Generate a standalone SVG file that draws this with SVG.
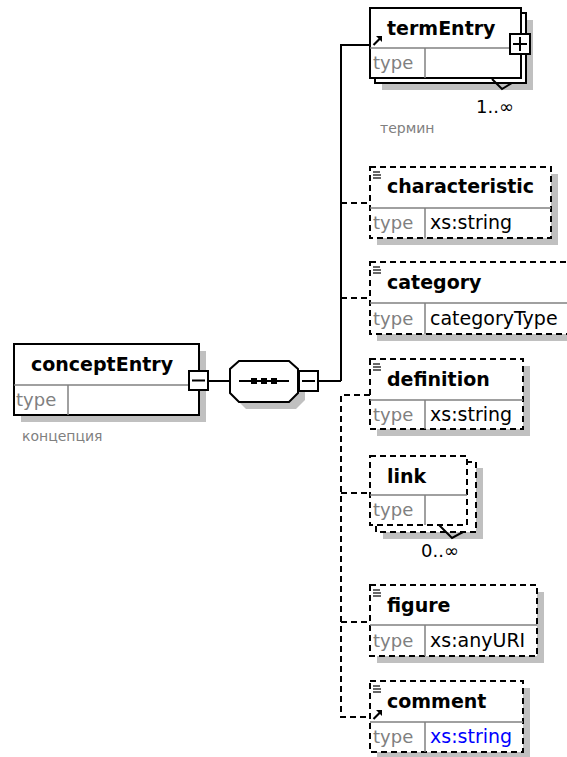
<svg xmlns="http://www.w3.org/2000/svg" width="567" height="757" viewBox="0 0 567 757">
  <style>
    .bg { fill: #ffffff; }
    .shadow { fill: #c0c0c0; stroke: none; }
    .box { fill: #ffffff; stroke: #000000; stroke-width: 2; }
    .opt { fill: #ffffff; stroke: #000000; stroke-width: 2; stroke-dasharray: 6 4; }
    .sep { stroke: #808080; stroke-width: 1.5; fill: none; }
    .wire { stroke: #000000; stroke-width: 2; fill: none; }
    .wire-opt { stroke: #000000; stroke-width: 2; fill: none; stroke-dasharray: 6 4; }
    .btn { fill: #ffffff; stroke: #000000; stroke-width: 2; }
    .glyph { stroke: #000000; stroke-width: 2; fill: none; }
    .doc { stroke: #000000; stroke-width: 1.2; fill: none; }
    .name { font-family: "DejaVu Sans", Verdana, sans-serif; font-weight: bold; font-size: 19px; fill: #000000; }
    .lbl { font-family: "DejaVu Sans", Verdana, sans-serif; font-size: 18px; fill: #808080; }
    .val { font-family: "DejaVu Sans", Verdana, sans-serif; font-size: 19px; fill: #000000; }
    .link-val { fill: #0000ff; }
    .note { font-family: "DejaVu Sans", Verdana, sans-serif; font-size: 14px; fill: #808080; }
    .occ { font-family: "DejaVu Sans", Verdana, sans-serif; font-size: 18px; fill: #000000; }
  </style>
  <defs>
    <!-- documentation mark -->
    <g id="docmark" class="doc">
      <line x1="0" y1="0" x2="7" y2="0"/>
      <line x1="0" y1="3" x2="8" y2="3"/>
      <line x1="0" y1="6" x2="8" y2="6"/>
    </g>
    <!-- reference arrow -->
    <g id="refmark">
      <line x1="0.5" y1="9" x2="7" y2="2.5" stroke="#000" stroke-width="2.2"/>
      <polygon points="3,0 9,0 9,6" fill="#000"/>
    </g>
  </defs>

  <rect class="bg" x="0" y="0" width="567" height="757"/>

  <!-- connectors -->
  <g id="connectors">
    <line class="wire" x1="207" y1="381" x2="230" y2="381"/>
    <line class="wire" x1="318" y1="381" x2="341" y2="381"/>
    <polyline class="wire" points="341,381 341,45 371,45"/>
    <line class="wire-opt" x1="341" y1="203" x2="370" y2="203"/>
    <line class="wire-opt" x1="341" y1="298" x2="370" y2="298"/>
    <polyline class="wire-opt" points="370,395 341,395 341,717 370,717"/>
    <line class="wire-opt" x1="341" y1="493" x2="370" y2="493"/>
    <line class="wire-opt" x1="341" y1="622" x2="370" y2="622"/>
  </g>

  <!-- root element -->
  <g id="conceptEntry">
    <rect class="shadow" x="21" y="351" width="185" height="71"/>
    <rect class="box" x="14" y="344" width="185" height="71"/>
    <line class="sep" x1="14" y1="385" x2="199" y2="385"/>
    <line class="sep" x1="68" y1="385" x2="68" y2="415"/>
    <text class="name" x="31" y="371">conceptEntry</text>
    <text class="lbl" x="16" y="406">type</text>
    <text class="note" x="22" y="441">концепция</text>
    <rect class="btn" x="189" y="371" width="19" height="19"/>
    <line class="glyph" x1="192" y1="380.5" x2="205" y2="380.5"/>
  </g>

  <!-- sequence compositor -->
  <g id="sequence">
    <polygon class="shadow" points="246,368 296,368 305,376 305,400 296,409 246,409 237,400 237,376"/>
    <polygon class="box" points="239,361 289,361 298,369 298,393 289,402 239,402 230,393 230,369"/>
    <line class="wire" x1="239" y1="381" x2="289" y2="381"/>
    <rect x="251" y="378" width="6" height="6" fill="#000"/>
    <rect x="261" y="378" width="6" height="6" fill="#000"/>
    <rect x="271" y="378" width="6" height="6" fill="#000"/>
    <rect class="btn" x="299" y="371" width="19" height="20"/>
    <line class="glyph" x1="302" y1="381" x2="315" y2="381"/>
  </g>

  <!-- termEntry, 1..unbounded -->
  <g id="termEntry">
    <rect class="shadow" x="382" y="20" width="151" height="70"/>
    <rect class="box" x="375" y="13" width="151" height="70"/>
    <rect class="box" x="370" y="8" width="151" height="70"/>
    <line class="sep" x1="370" y1="48" x2="521" y2="48"/>
    <line class="sep" x1="425" y1="48" x2="425" y2="78"/>
    <use href="#refmark" x="373" y="36"/>
    <text class="name" x="387" y="35">termEntry</text>
    <text class="lbl" x="373" y="69">type</text>
    <polyline class="glyph" points="492,79 502,89 512,83"/>
    <rect class="btn" x="510" y="34" width="20" height="20"/>
    <line class="glyph" x1="513" y1="44" x2="527" y2="44"/>
    <line class="glyph" x1="520" y1="37" x2="520" y2="51"/>
    <text class="occ" x="476" y="113">1..∞</text>
    <text class="note" x="380" y="133">термин</text>
  </g>

  <g id="characteristic">
    <rect class="shadow" x="377" y="174" width="181" height="71"/>
    <rect class="opt" x="370" y="167" width="181" height="71"/>
    <line class="sep" x1="370" y1="208" x2="551" y2="208"/>
    <line class="sep" x1="425" y1="208" x2="425" y2="238"/>
    <use href="#docmark" x="373" y="172"/>
    <text class="name" x="387" y="193">characteristic</text>
    <text class="lbl" x="373" y="229">type</text>
    <text class="val" x="430" y="229">xs:string</text>
  </g>

  <g id="category">
    <rect class="shadow" x="377" y="269" width="200" height="72"/>
    <rect class="opt" x="370" y="262" width="200" height="72"/>
    <line class="sep" x1="370" y1="303" x2="570" y2="303"/>
    <line class="sep" x1="425" y1="303" x2="425" y2="334"/>
    <use href="#docmark" x="373" y="267"/>
    <text class="name" x="387" y="289">category</text>
    <text class="lbl" x="373" y="325">type</text>
    <text class="val" x="430" y="325">categoryType</text>
  </g>

  <g id="definition">
    <rect class="shadow" x="377" y="366" width="153" height="70"/>
    <rect class="opt" x="370" y="359" width="153" height="70"/>
    <line class="sep" x1="370" y1="400" x2="523" y2="400"/>
    <line class="sep" x1="425" y1="400" x2="425" y2="429"/>
    <use href="#docmark" x="373" y="364"/>
    <text class="name" x="387" y="386">definition</text>
    <text class="lbl" x="373" y="421">type</text>
    <text class="val" x="430" y="421">xs:string</text>
  </g>

  <!-- link, 0..unbounded -->
  <g id="link">
    <rect class="shadow" x="383" y="468" width="100" height="71"/>
    <rect class="opt" x="376" y="462" width="100" height="70"/>
    <rect class="opt" x="370" y="456" width="97" height="69"/>
    <line class="sep" x1="370" y1="495" x2="467" y2="495"/>
    <line class="sep" x1="425" y1="495" x2="425" y2="525"/>
    <text class="name" x="387" y="483">link</text>
    <text class="lbl" x="373" y="516">type</text>
    <polyline class="glyph" points="439,525 452,538 463,532"/>
    <text class="occ" x="421" y="557">0..∞</text>
  </g>

  <g id="figure">
    <rect class="shadow" x="377" y="592" width="167" height="71"/>
    <rect class="opt" x="370" y="585" width="167" height="71"/>
    <line class="sep" x1="370" y1="625" x2="537" y2="625"/>
    <line class="sep" x1="425" y1="625" x2="425" y2="656"/>
    <use href="#docmark" x="373" y="590"/>
    <text class="name" x="387" y="612">figure</text>
    <text class="lbl" x="373" y="647">type</text>
    <text class="val" x="430" y="647">xs:anyURI</text>
  </g>

  <g id="comment">
    <rect class="shadow" x="377" y="688" width="153" height="71"/>
    <rect class="opt" x="370" y="681" width="153" height="71"/>
    <line class="sep" x1="370" y1="722" x2="523" y2="722"/>
    <line class="sep" x1="425" y1="722" x2="425" y2="752"/>
    <use href="#docmark" x="373" y="686"/>
    <use href="#refmark" x="373" y="710"/>
    <text class="name" x="387" y="708">comment</text>
    <text class="lbl" x="373" y="743">type</text>
    <text class="val link-val" x="430" y="743">xs:string</text>
  </g>
</svg>
